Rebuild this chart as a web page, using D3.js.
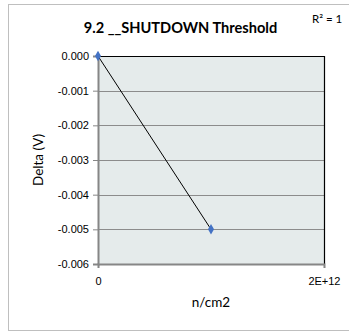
<!DOCTYPE html>
<html><head><meta charset="utf-8">
<script src="https://cdn.jsdelivr.net/npm/d3@7"></script>
<style>body{margin:0;background:#fff;}svg{display:block;font-family:Lato,"Open Sans",sans-serif;}</style>
</head><body>
<script>
const xValues = [0, 1e12];
const yValues = [0.000, -0.005];
const yTicks = [0, -0.001, -0.002, -0.003, -0.004, -0.005, -0.006];
const xTicks = [0, 2e12];
const xTickLabels = ["0", "2E+12"];
const title = "9.2 __SHUTDOWN Threshold";

const W = 349, H = 335;
const svg = d3.select("body").append("svg").attr("width", W).attr("height", H);
svg.append("rect").attr("x", 8.5).attr("y", 4.5).attr("width", 360).attr("height", 326)
  .attr("fill", "#fff").attr("stroke", "#bfbfbf").attr("stroke-width", 1);

const L = 98, R = 324, T = 56, B = 264;
const x = d3.scaleLinear().domain([0, 2e12]).range([L, R]);
const y = d3.scaleLinear().domain([-0.006, 0]).range([B, T]);

svg.append("rect").attr("x", L).attr("y", T).attr("width", R - L).attr("height", B - T).attr("fill", "#e5ebeb");

// gridlines
svg.append("g").selectAll("line").data(yTicks.filter(d => d !== 0 && d !== -0.006)).join("line")
  .attr("x1", L).attr("x2", R).attr("y1", d => Math.round(y(d)) + 0.5).attr("y2", d => Math.round(y(d)) + 0.5)
  .attr("stroke", "#8c8c8c").attr("stroke-width", 1);

// top and right border
svg.append("path").attr("d", `M${L},${T + 0.5}H${R + 0.5}V${B}`).attr("fill", "none").attr("stroke", "#000").attr("stroke-width", 1.2);

// y axis
const yAxis = svg.append("g").attr("transform", `translate(${L},0)`)
  .call(d3.axisLeft(y).tickValues(yTicks).tickFormat(d3.format(".3f")).tickSizeOuter(0).tickSize(5));
yAxis.select(".domain").attr("stroke", "#868686").attr("stroke-width", 2);
yAxis.selectAll(".tick line").attr("stroke", "#868686");
yAxis.selectAll("text").attr("font-size", 11).attr("fill", "#000").attr("x", -9)
  .text(d => d === 0 ? "0.000" : d3.format(".3f")(d).replace("−", "-"));

// x axis
const xAxis = svg.append("g").attr("transform", `translate(0,${B})`)
  .call(d3.axisBottom(x).tickValues(xTicks).tickFormat((d, i) => xTickLabels[i]).tickSizeOuter(0).tickSize(4));
xAxis.select(".domain").attr("stroke", "#868686").attr("stroke-width", 2);
xAxis.selectAll(".tick line").attr("stroke", "#868686");
xAxis.selectAll("text").attr("font-size", 11).attr("fill", "#000").attr("dy", "1.3em");
xAxis.selectAll(".tick text").filter((d, i) => i === 1).attr("text-anchor", "end").attr("dx", 16);

// line
const pts = xValues.map((v, i) => [v, yValues[i]]);
svg.append("path").datum(pts).attr("fill", "none").attr("stroke", "#000").attr("stroke-width", 1)
  .attr("d", d3.line().x(d => x(d[0])).y(d => y(d[1])));
svg.append("g").selectAll("path").data(pts).join("path")
  .attr("transform", d => `translate(${x(d[0])},${y(d[1])})`)
  .attr("d", d3.symbol().type(d3.symbolDiamond).size(32)).attr("fill", "#4472c4");

// title
svg.append("text").attr("x", 180.5).attr("y", 32.5).attr("text-anchor", "middle")
  .attr("font-size", 14.6).attr("font-weight", "bold").text(title);
svg.append("text").attr("x", 312).attr("y", 23).attr("font-size", 11.5).text("R² = 1");

// axis titles
svg.append("text").attr("transform", `translate(43,${(T + B) / 2}) rotate(-90)`).attr("text-anchor", "middle")
  .attr("font-size", 13.5).text("Delta (V)");
svg.append("text").attr("x", 211).attr("y", 307).attr("text-anchor", "middle").attr("font-size", 13.5).text("n/cm2");
</script>
</body></html>
